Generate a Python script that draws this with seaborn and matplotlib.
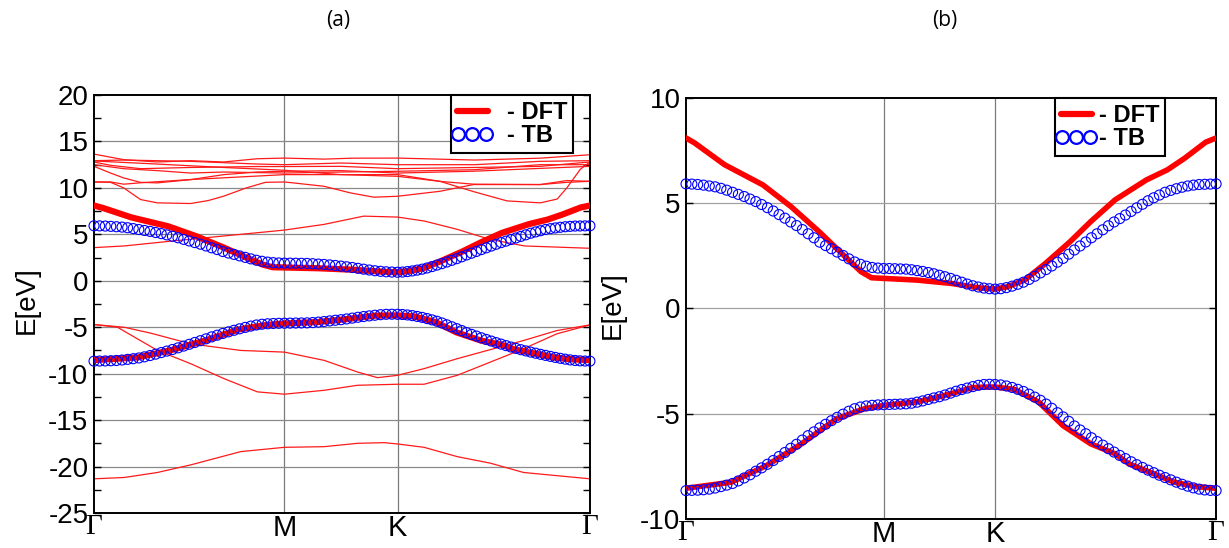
import numpy as np
import pandas as pd
import matplotlib
matplotlib.use("Agg")
import matplotlib.pyplot as plt
from matplotlib.lines import Line2D
from matplotlib.legend_handler import HandlerLine2D
import seaborn as sns

# ---------------- data (path units: Gamma=0, M=1, K=2, Gamma=3) ----------------
kpath_labels = ["\u0393", "M", "K", "\u0393"]
nodes_a = [0.0, 0.384, 0.612, 1.0]   # panel (a) tick positions
nodes_b = [0.0, 0.373, 0.583, 1.0]   # panel (b) tick positions

# TB conduction band (circles)
tb_cond_seg0 = [5.92, 5.91, 5.89, 5.86, 5.82, 5.78, 5.71, 5.62, 5.52, 5.42, 5.32, 5.20,
                5.08, 4.94, 4.79, 4.63, 4.46, 4.29, 4.11, 3.94, 3.75, 3.55, 3.36, 3.15,
                2.99, 2.84, 2.68, 2.52, 2.36, 2.21, 2.10, 2.01, 1.95, 1.92, 1.90]
tb_cond_seg1 = [1.90, 1.89, 1.88, 1.87, 1.84, 1.80, 1.76, 1.71, 1.65, 1.58, 1.51, 1.43,
                1.34, 1.25, 1.16, 1.08, 1.02, 0.97, 0.94, 0.92]
tb_cond_seg2 = [0.94, 0.99, 1.06, 1.15, 1.25, 1.38, 1.53, 1.69, 1.85, 2.02, 2.20, 2.38,
                2.58, 2.78, 2.97, 3.16, 3.36, 3.55, 3.74, 3.93, 4.11, 4.27, 4.44, 4.61,
                4.78, 4.95, 5.12, 5.26, 5.39, 5.52, 5.61, 5.69, 5.76, 5.82, 5.86, 5.89,
                5.90, 5.91, 5.92]
# TB valence band (circles)
tb_val_seg0 = [-8.65, -8.64, -8.63, -8.61, -8.58, -8.53, -8.46, -8.39, -8.31, -8.19, -8.05,
               -7.90, -7.73, -7.57, -7.40, -7.22, -7.03, -6.84, -6.64, -6.45, -6.25, -6.04,
               -5.86, -5.67, -5.50, -5.33, -5.17, -5.02, -4.88, -4.76, -4.68, -4.63, -4.60,
               -4.58, -4.57]
tb_val_seg1 = [-4.56, -4.55, -4.54, -4.53, -4.50, -4.45, -4.39, -4.32, -4.25, -4.19, -4.11,
               -4.02, -3.93, -3.85, -3.78, -3.71, -3.65, -3.61, -3.60, -3.61]
tb_val_seg2 = [-3.63, -3.68, -3.75, -3.84, -3.94, -4.07, -4.21, -4.36, -4.54, -4.74, -4.95,
               -5.15, -5.36, -5.58, -5.77, -5.95, -6.14, -6.32, -6.49, -6.66, -6.82, -6.98,
               -7.13, -7.28, -7.42, -7.55, -7.68, -7.80, -7.92, -8.03, -8.14, -8.25, -8.35,
               -8.44, -8.52, -8.58, -8.62, -8.64, -8.65]

# DFT bands fitted (thick red)
dft_cond_k = [0.0, 0.044, 0.195, 0.389, 0.531, 0.673, 0.796, 0.885, 0.938, 1.0, 1.297, 1.609,
              1.859, 2.0, 2.055, 2.134, 2.228, 2.339, 2.433, 2.543, 2.685, 2.780, 2.858,
              2.953, 3.0]
dft_cond_e = [8.10, 7.86, 6.83, 5.87, 4.84, 3.65, 2.54, 1.75, 1.46, 1.43, 1.35, 1.19,
              0.98, 0.92, 1.03, 1.35, 2.14, 3.17, 4.13, 5.16, 6.11, 6.59, 7.14, 7.90, 8.10]
dft_val_k = [0.0, 0.230, 0.407, 0.584, 0.761, 0.903, 1.0, 1.297, 1.547, 1.797, 1.922, 2.0,
             2.087, 2.197, 2.307, 2.433, 2.543, 2.606, 2.701, 2.811, 2.906, 3.0]
dft_val_e = [-8.54, -8.25, -7.46, -6.43, -5.24, -4.76, -4.60, -4.44, -4.13, -3.76, -3.73,
             -3.73, -3.84, -4.44, -5.56, -6.43, -6.90, -7.38, -7.78, -8.25, -8.46, -8.54]

# other DFT bands (thin red, panel a)
band1_k = [0.0, 0.156, 0.332, 0.507, 0.681, 0.857, 1.0, 1.35, 1.6, 2.0, 2.4, 2.74, 3.0]
band1_e = [13.64, 13.04, 12.79, 12.93, 12.79, 13.14, 13.21, 13.10, 13.20, 13.21, 13.00, 13.20, 13.57]
band2_k = [0.0, 0.156, 0.507, 0.857, 1.0, 1.5, 2.0, 2.4, 2.74, 3.0]
band2_e = [12.93, 13.00, 12.86, 12.57, 12.50, 12.68, 12.50, 12.50, 12.86, 12.93]
band3_k = [0.0, 0.087, 0.244, 0.507, 0.857, 1.0, 1.5, 2.0, 2.4, 2.74, 3.0]
band3_e = [12.79, 12.43, 12.07, 12.20, 12.30, 12.30, 12.32, 12.07, 12.20, 12.32, 12.79]
band4_k = [0.0, 0.156, 0.332, 0.507, 0.681, 1.0, 1.5, 2.0, 2.4, 2.74, 3.0]
band4_e = [12.50, 12.07, 11.86, 11.60, 11.71, 11.60, 11.71, 11.79, 11.96, 12.50, 12.50]
band5_k = [0.0, 0.087, 0.156, 0.244, 0.332, 0.507, 0.681, 0.857, 1.0, 1.5, 2.0, 2.4, 2.74, 3.0]
band5_e = [12.32, 11.60, 11.07, 10.60, 10.54, 10.89, 11.43, 11.71, 11.79, 11.86, 11.60, 11.80, 12.10, 12.32]
band6_k = [0.0, 0.087, 0.156, 0.244, 0.507, 1.0, 1.5, 2.0, 2.222, 2.395, 2.742, 2.88, 3.0]
band6_e = [10.64, 10.64, 10.40, 10.55, 10.90, 11.43, 11.43, 11.25, 10.70, 10.40, 10.36, 10.60, 10.71]
band7_k = [0.0, 0.087, 0.156, 0.244, 0.332, 0.507, 0.6, 0.681, 0.8, 0.9, 1.0, 1.348, 1.584,
           1.791, 2.0, 2.222, 2.395, 2.742, 2.88, 3.0]
band7_e = [10.64, 10.60, 10.00, 8.75, 8.39, 8.32, 8.64, 9.11, 10.00, 10.60, 10.64, 10.18, 9.46,
           9.00, 9.10, 9.64, 10.36, 10.36, 10.79, 10.71]
band8_k = [0.0, 0.3, 0.681, 1.0, 1.5, 2.0, 2.222, 2.395, 2.569, 2.742, 2.83, 2.88, 2.95, 3.0]
band8_e = [12.90, 12.60, 12.20, 11.90, 11.43, 11.43, 10.70, 9.60, 8.60, 8.39, 8.80, 10.00, 12.00, 12.80]
cband_k = [0.0, 0.158, 0.42, 0.68, 1.0, 1.35, 1.7, 2.0, 2.14, 2.31, 2.48, 2.66, 3.0]
cband_e = [3.57, 3.75, 4.30, 4.82, 5.46, 6.07, 6.96, 6.86, 6.43, 5.54, 4.46, 3.75, 3.50]
vband1_k = [0.0, 0.158, 0.298, 0.508, 0.771, 1.0, 1.351, 1.646, 1.823, 2.0, 2.138, 2.31, 2.655, 2.828, 3.0]
vband1_e = [-4.71, -5.00, -5.64, -6.79, -7.50, -7.68, -8.57, -9.82, -10.43, -10.18, -9.46, -8.39,
            -6.43, -5.36, -4.75]
vband2_k = [0.0, 0.123, 0.333, 0.508, 0.683, 0.858, 1.0, 1.351, 1.646, 2.0, 2.138, 2.31, 2.483,
            2.655, 2.828, 3.0]
vband2_e = [-4.71, -5.00, -7.50, -8.93, -10.54, -11.96, -12.21, -11.79, -11.25, -11.14, -11.14,
            -10.18, -8.75, -7.32, -5.71, -4.75]
vband3_k = [0.0, 0.158, 0.333, 0.508, 0.771, 1.0, 1.351, 1.646, 1.882, 2.0, 2.138, 2.31, 2.483,
            2.655, 3.0]
vband3_e = [-21.32, -21.18, -20.64, -19.82, -18.39, -17.93, -17.86, -17.50, -17.43, -17.57,
            -17.93, -18.93, -19.64, -20.64, -21.32]

thin_bands = [(band1_k, band1_e), (band2_k, band2_e), (band3_k, band3_e), (band4_k, band4_e),
              (band5_k, band5_e), (band6_k, band6_e), (band7_k, band7_e), (band8_k, band8_e),
              (cband_k, cband_e), (vband1_k, vband1_e), (vband2_k, vband2_e), (vband3_k, vband3_e)]

# ---------------- helpers ----------------
def tb_k(n0, n1, n2):
    k0 = [i / (n0 - 1) for i in range(n0)]
    k1 = [1 + (i + 1) / n1 for i in range(n1)]
    k2 = [2 + (i + 1) / n2 for i in range(n2)]
    return np.array(k0 + k1 + k2)

tb_cond_k = tb_k(len(tb_cond_seg0), len(tb_cond_seg1), len(tb_cond_seg2))
tb_cond_e = np.array(tb_cond_seg0 + tb_cond_seg1 + tb_cond_seg2)
tb_val_k = tb_k(len(tb_val_seg0), len(tb_val_seg1), len(tb_val_seg2))
tb_val_e = np.array(tb_val_seg0 + tb_val_seg1 + tb_val_seg2)

def to_x(k, nodes):
    return np.interp(np.asarray(k, dtype=float), [0, 1, 2, 3], nodes)

# ---------------- figure ----------------
sns.set_theme(style="white")
plt.rcParams["font.family"] = ["Liberation Sans", "DejaVu Sans"]
plt.rcParams["axes.unicode_minus"] = False
for key in ["text.color", "axes.labelcolor", "xtick.color", "ytick.color"]:
    plt.rcParams[key] = "black"

fig = plt.figure(figsize=(12.29, 5.48), dpi=100)
ax_a = fig.add_axes([0.0765, 0.0639, 0.4035, 0.7627])
ax_b = fig.add_axes([0.5582, 0.0529, 0.4313, 0.7683])

def draw_panel(ax, nodes, thick_lw, thin):
    for xv in nodes[1:3]:
        ax.axvline(xv, color="#7a7a7a", lw=0.9, zorder=0)
    if thin:
        for (kk, ee) in thin_bands:
            df = pd.DataFrame({"x": to_x(kk, nodes), "E": ee})
            sns.lineplot(data=df, x="x", y="E", ax=ax, color="#ff1a1a", lw=0.9,
                         sort=False, estimator=None, zorder=2)
    for (kk, ee) in [(dft_cond_k, dft_cond_e), (dft_val_k, dft_val_e)]:
        df = pd.DataFrame({"x": to_x(kk, nodes), "E": ee})
        sns.lineplot(data=df, x="x", y="E", ax=ax, color="#ff0000", lw=thick_lw,
                     sort=False, estimator=None, zorder=3)
    for (kk, ee) in [(tb_cond_k, tb_cond_e), (tb_val_k, tb_val_e)]:
        df = pd.DataFrame({"x": to_x(kk, nodes), "E": ee})
        sns.scatterplot(data=df, x="x", y="E", ax=ax, marker="o", s=52,
                        facecolor="none", edgecolor="#0000ff", linewidth=0.8,
                        zorder=4, clip_on=False)
    ax.set_xlim(0, 1)
    ax.set_xticks(nodes)
    ax.set_xticklabels(kpath_labels)
    for lab, txt in zip(ax.get_xticklabels(), kpath_labels):
        if txt == "\u0393":
            lab.set_fontfamily(["Liberation Serif", "DejaVu Serif"])
        lab.set_fontsize(21)
    ax.tick_params(axis="x", length=0, pad=1)
    ax.set_xlabel("")
    ax.set_ylabel("E[eV]", fontsize=20)
    for sp in ax.spines.values():
        sp.set_visible(True)
        sp.set_color("black")
        sp.set_linewidth(1.4)

draw_panel(ax_a, nodes_a, 4.5, True)
draw_panel(ax_b, nodes_b, 4.0, False)

# panel (a) axes
ax_a.set_ylim(-25, 20)
ax_a.set_yticks(np.arange(-25, 21, 5))
ax_a.set_yticks(np.arange(-22.5, 20, 5), minor=True)
for yv in np.arange(-20, 20, 5):
    ax_a.axhline(yv, color="#8a8a8a", lw=0.9, zorder=0)
ax_a.tick_params(axis="y", which="both", direction="in", left=True, right=True,
                 labelsize=20, length=5, width=1.0, color="black", pad=4)
ax_a.yaxis.set_label_coords(-0.109, 0.51)

# panel (b) axes
ax_b.set_ylim(-10, 10)
ax_b.set_yticks(np.arange(-10, 11, 5))
for yv in np.arange(-5, 10, 5):
    ax_b.axhline(yv, color="#a0a0a0", lw=0.9, zorder=0)
ax_b.tick_params(axis="y", which="both", direction="in", left=True, right=True,
                 labelsize=20, length=5, width=1.0, color="black", pad=4)
ax_b.yaxis.set_label_coords(-0.114, 0.508)

# legends
def add_legend(ax, anchor_x, textpad):
    h_dft = Line2D([], [], color="#ff0000", lw=4.5)
    h_tb = Line2D([], [], ls="none", marker="o", markersize=9.2, markerfacecolor="none",
                  markeredgecolor="#0000ff", markeredgewidth=1.6)
    leg = ax.legend([h_dft, h_tb], ["- DFT", "- TB"], loc="upper right",
                    bbox_to_anchor=(anchor_x, 1.0), borderaxespad=0.0,
                    handler_map={h_tb: HandlerLine2D(marker_pad=0.07, numpoints=3)},
                    handlelength=1.31, handletextpad=textpad, labelspacing=0.0,
                    borderpad=0.25, fancybox=False, framealpha=1.0,
                    prop={"weight": "bold", "size": 17})
    leg.get_frame().set_edgecolor("black")
    leg.get_frame().set_linewidth(1.5)
    for t in leg.get_texts():
        t.set_color("black")

add_legend(ax_a, 0.966, 0.8)
add_legend(ax_b, 0.904, 0.3)

fig.text(0.275, 0.9635, "(a)", ha="center", va="center", fontsize=15,
         fontfamily=["Open Sans", "DejaVu Sans"])
fig.text(0.769, 0.9635, "(b)", ha="center", va="center", fontsize=15,
         fontfamily=["Open Sans", "DejaVu Sans"])

fig.savefig("out.png", dpi=100)
